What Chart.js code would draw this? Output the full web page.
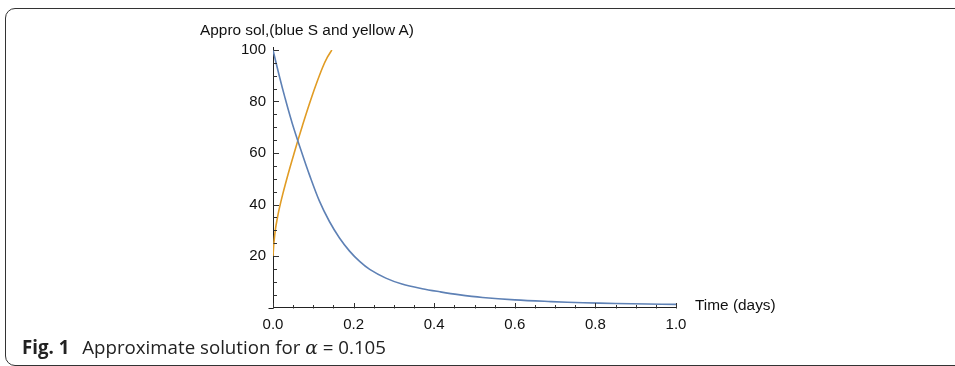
<!DOCTYPE html>
<html lang="en">
<head>
  <meta charset="UTF-8" />
  <title>Approximate solution</title>
  <script src="https://cdn.jsdelivr.net/npm/chart.js"></script>
  <style>
    html, body {
      margin: 0;
      padding: 0;
      background: #fff;
      width: 955px;
      height: 366px;
      overflow: hidden;
    }
    .marco {
      position: absolute;
      left: 5px;
      top: 8px;
      width: 1000px;
      height: 356px;
      border: 1px solid #333;
      border-radius: 10px;
    }
    #grafica {
      position: absolute;
      left: 0;
      top: 0;
    }
    .titulo {
      position: absolute;
      left: 200px;
      top: 21px;
      font: 15.4px "Liberation Sans", Arial, sans-serif;
      color: #111;
      white-space: nowrap;
    }
    .etiqueta-x {
      position: absolute;
      left: 695px;
      top: 296px;
      font: 15.4px "Liberation Sans", Arial, sans-serif;
      color: #111;
      white-space: nowrap;
    }
    .pie {
      position: absolute;
      left: 22px;
      top: 334px;
      font: 18.7px "Open Sans", "Noto Sans", sans-serif;
      color: #222;
      white-space: nowrap;
    }
    .pie b { font-weight: 700; margin-right: 8px; }
    .pie i { font-family: "DejaVu Serif", serif; font-style: italic; }
  </style>
</head>
<body>
  <div class="marco"></div>
  <canvas id="grafica" width="955" height="366"></canvas>
  <div class="titulo">Appro sol,(blue S and yellow A)</div>
  <div class="etiqueta-x">Time (days)</div>
  <div class="pie"><b>Fig. 1</b> Approximate solution for <i>α</i> = 0.105</div>

  <script>
    // curva azul S
    const tiempoS = [0, 0.015, 0.03, 0.048, 0.073, 0.09, 0.115, 0.14, 0.165, 0.19, 0.215, 0.24, 0.28, 0.32, 0.37, 0.414, 0.46, 0.52, 0.6, 0.69, 0.77, 0.85, 0.93, 1.0];
    const valoresS = [100, 90.3, 81.3, 71.4, 59.4, 51.7, 41.4, 33.4, 27, 21.9, 17.9, 14.8, 11.4, 9.1, 7.3, 6.1, 5.0, 3.9, 2.95, 2.3, 1.85, 1.55, 1.35, 1.2];

    // curva amarilla A
    const tiempoA = [0, 0.0025, 0.0066, 0.01, 0.015, 0.025, 0.04, 0.052, 0.062, 0.073, 0.09, 0.106, 0.123, 0.135, 0.146];
    const valoresA = [20, 25.5, 31, 34, 38, 44.5, 53.2, 59.7, 65, 70.6, 78.9, 86.2, 93.2, 97.2, 100];

    const marcasX = { min: 0, max: 1, paso: 0.2, menor: 0.05 };
    const marcasY = { min: 0, max: 100, paso: 20, menor: 5 };

    const azul = '#5E81B5';
    const naranja = '#E19C24';
    const fuente = { family: '"Liberation Sans", Arial, sans-serif', size: 15 };

    const puntos = (xs, ys) => xs.map((x, i) => ({ x: x, y: ys[i] }));

    // marcas hacia dentro, como en Mathematica
    const marcasInternas = {
      id: 'marcasInternas',
      afterDraw(chart) {
        const ctx = chart.ctx;
        const sx = chart.scales.x, sy = chart.scales.y;
        const y0 = Math.round(sy.getPixelForValue(0)) + 0.5;
        const x0 = Math.round(sx.getPixelForValue(0)) + 0.5;
        ctx.save();
        ctx.strokeStyle = '#222';
        ctx.lineWidth = 1;
        ctx.beginPath();
        // el eje x asoma un poco a la izquierda
        ctx.moveTo(x0 - 5, y0);
        ctx.lineTo(x0, y0);
        ctx.moveTo(x0, sy.getPixelForValue(marcasY.max));
        ctx.lineTo(x0, sy.getPixelForValue(marcasY.max) - 3);
        ctx.stroke();
        ctx.strokeStyle = '#333';
        ctx.beginPath();
        for (let v = marcasX.min; v <= marcasX.max + 1e-9; v += marcasX.menor) {
          const esMayor = Math.abs(v / marcasX.paso - Math.round(v / marcasX.paso)) < 1e-6;
          const px = Math.round(sx.getPixelForValue(v)) + 0.5;
          ctx.moveTo(px, y0);
          ctx.lineTo(px, y0 - (esMayor ? 5.5 : 3.5));
        }
        for (let v = marcasY.min + marcasY.menor; v <= marcasY.max + 1e-9; v += marcasY.menor) {
          const esMayor = Math.abs(v / marcasY.paso - Math.round(v / marcasY.paso)) < 1e-6;
          const py = Math.round(sy.getPixelForValue(v)) + 0.5;
          ctx.moveTo(x0, py);
          ctx.lineTo(x0 + (esMayor ? 5.5 : 3.5), py);
        }
        ctx.stroke();
        ctx.restore();
      }
    };

    window.onload = () => {
      const ctx = document.getElementById('grafica').getContext('2d');
      new Chart(ctx, {
        type: 'line',
        data: {
          datasets: [
            {
              label: 'S',
              data: puntos(tiempoS, valoresS),
              borderColor: azul,
              borderWidth: 1.6,
              pointRadius: 0,
              tension: 0.35,
              fill: false
            },
            {
              label: 'A',
              data: puntos(tiempoA, valoresA),
              borderColor: naranja,
              borderWidth: 1.6,
              pointRadius: 0,
              tension: 0.35,
              fill: false
            }
          ]
        },
        options: {
          responsive: false,
          animation: false,
          layout: { padding: { left: 233, right: 279, top: 50, bottom: 28.5 } },
          plugins: {
            legend: { display: false },
            tooltip: { enabled: false },
            title: { display: false }
          },
          scales: {
            x: {
              type: 'linear',
              min: marcasX.min,
              max: marcasX.max,
              grid: { display: false, drawTicks: false },
              border: { display: true, color: '#222', width: 1 },
              ticks: {
                stepSize: marcasX.paso,
                color: '#111',
                font: fuente,
                padding: 8,
                maxRotation: 0,
                callback: v => v.toFixed(1)
              },
              afterFit: s => { s.height = 30; }
            },
            y: {
              type: 'linear',
              min: marcasY.min,
              max: marcasY.max,
              grid: { display: false, drawTicks: false },
              border: { display: true, color: '#222', width: 1 },
              ticks: {
                stepSize: marcasY.paso,
                color: '#111',
                font: fuente,
                padding: 7,
                callback: v => (v === 0 ? '' : v)
              },
              afterFit: s => { s.width = 40; }
            }
          }
        },
        plugins: [marcasInternas]
      });
    };
  </script>
</body>
</html>
